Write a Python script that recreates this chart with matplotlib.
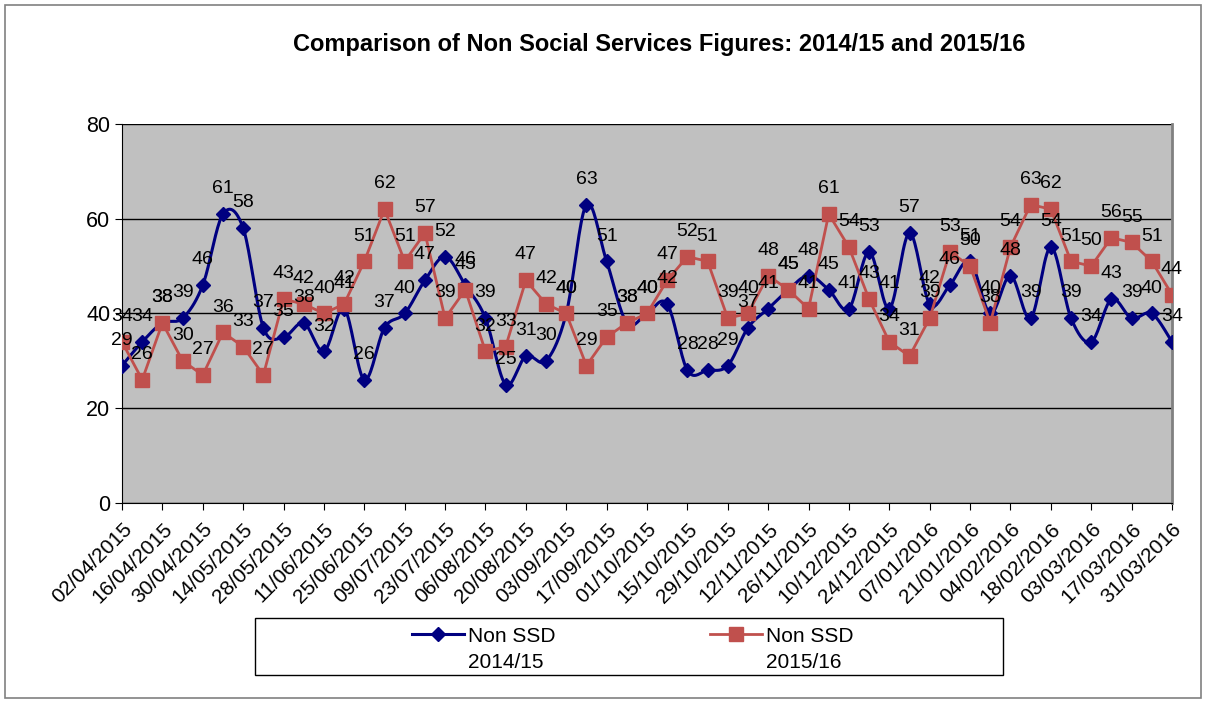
import numpy as np
import matplotlib.pyplot as plt
from matplotlib.patches import Rectangle

plt.rcParams['font.family'] = ['Liberation Sans', 'DejaVu Sans']

# weekly figures, 02/04 to 31/03
dates = ['02/04/2015', '16/04/2015', '30/04/2015', '14/05/2015', '28/05/2015',
         '11/06/2015', '25/06/2015', '09/07/2015', '23/07/2015', '06/08/2015',
         '20/08/2015', '03/09/2015', '17/09/2015', '01/10/2015', '15/10/2015',
         '29/10/2015', '12/11/2015', '26/11/2015', '10/12/2015', '24/12/2015',
         '07/01/2016', '21/01/2016', '04/02/2016', '18/02/2016', '03/03/2016',
         '17/03/2016', '31/03/2016']

non_ssd_1415 = [29, 34, 38, 39, 46, 61, 58, 37, 35, 38,
                32, 41, 26, 37, 40, 47, 52, 46, 39, 25,
                31, 30, 40, 63, 51, 38, 40, 42, 28, 28,
                29, 37, 41, 45, 48, 45, 41, 53, 41, 57,
                42, 46, 51, 40, 48, 39, 54, 39, 34, 43,
                39, 40, 34]

non_ssd_1516 = [34, 26, 38, 30, 27, 36, 33, 27, 43, 42,
                40, 42, 51, 62, 51, 57, 39, 45, 32, 33,
                47, 42, 40, 29, 35, 38, 40, 47, 52, 51,
                39, 40, 48, 45, 41, 61, 54, 43, 34, 31,
                39, 53, 50, 38, 54, 63, 62, 51, 50, 56,
                55, 51, 44]

series_names = ['Non SSD', 'Non SSD']
series_years = ['2014/15', '2015/16']

blue = '#000080'
red = '#C0504D'


def smooth(x, y, n=20):
    # bezier smoothing like excel's "smoothed line"
    x = np.asarray(x, float)
    y = np.asarray(y, float)
    px = np.concatenate([[x[0]], x, [x[-1]]])
    py = np.concatenate([[y[0]], y, [y[-1]]])
    xs, ys = [], []
    t = np.linspace(0, 1, n)
    for i in range(len(x) - 1):
        p0 = np.array([px[i + 1], py[i + 1]])
        p3 = np.array([px[i + 2], py[i + 2]])
        c1 = p0 + (p3 - np.array([px[i], py[i]])) / 6
        c2 = p3 - (np.array([px[i + 3], py[i + 3]]) - p0) / 6
        pts = ((1 - t)[:, None] ** 3 * p0 + 3 * ((1 - t) ** 2 * t)[:, None] * c1
               + 3 * ((1 - t) * t ** 2)[:, None] * c2 + (t ** 3)[:, None] * p3)
        xs.extend(pts[:, 0])
        ys.extend(pts[:, 1])
    return xs, ys


fig = plt.figure(figsize=(12.07, 7.02), dpi=100)
fig.patches.append(Rectangle((0.004, 0.006), 0.991, 0.987, transform=fig.transFigure,
                             fill=False, edgecolor='#808080', linewidth=1.2))

ax = fig.add_axes([0.1011, 0.2835, 0.8699, 0.5399])
ax.set_facecolor('#C0C0C0')

x = np.arange(len(non_ssd_1415))

sx, sy = smooth(x, non_ssd_1415)
ax.plot(sx, sy, color=blue, linewidth=2.2, zorder=3)
ax.plot(x, non_ssd_1415, linestyle='none', marker='D', markersize=7.5,
        color=blue, zorder=3)
ax.plot(x, non_ssd_1516, color=red, linewidth=2, marker='s', markersize=10,
        zorder=4)

for xi, v in zip(x, non_ssd_1415):
    ax.annotate(str(v), (xi, v), xytext=(0, 15), textcoords='offset points',
                ha='center', va='baseline', fontsize=14, zorder=6)
for xi, v in zip(x, non_ssd_1516):
    ax.annotate(str(v), (xi, v), xytext=(0, 15), textcoords='offset points',
                ha='center', va='baseline', fontsize=14, zorder=6)

ax.set_xlim(0, len(x) - 1)
ax.set_ylim(0, 80)
ax.set_yticks([0, 20, 40, 60, 80])
ax.yaxis.grid(True, color='black', linewidth=1)
ax.set_axisbelow(True)
ax.set_xticks(x[::2])
ax.set_xticklabels(dates, rotation=45, ha='right', rotation_mode='anchor',
                   fontsize=15)
ax.tick_params(axis='y', labelsize=15.5, length=5, direction='out')
ax.tick_params(axis='x', length=5, direction='out', pad=7)

for s in ['left', 'bottom']:
    ax.spines[s].set_color('black')
ax.spines['top'].set_visible(False)
ax.spines['right'].set_color('#808080')
ax.spines['right'].set_linewidth(2)

fig.text(0.546, 0.936, 'Comparison of Non Social Services Figures: 2014/15 and 2015/16',
         ha='center', va='center', fontsize=17, fontweight='bold')

# legend box
fig.patches.append(Rectangle((0.2113, 0.0385), 0.6197, 0.0812, transform=fig.transFigure,
                             fill=False, edgecolor='black', linewidth=1))
leg = fig.legend(
    [plt.Line2D([], [], color=blue, marker='D', markersize=7.5, linewidth=2.2),
     plt.Line2D([], [], color=red, marker='s', markersize=10, linewidth=2)],
    series_names,
    loc='center', bbox_to_anchor=(0.524, 0.094), ncol=2, frameon=False,
    fontsize=15, columnspacing=7.4, handlelength=2.5, handletextpad=0.2)

# second line of each legend label
fig.canvas.draw()
W, H = fig.bbox.width, fig.bbox.height
for t, yr in zip(leg.get_texts(), series_years):
    bb = t.get_window_extent()
    fig.text(bb.x0 / W, 1 - 662 / 702, yr, ha='left', va='center', fontsize=15)

fig.savefig('out.png', dpi=100)
